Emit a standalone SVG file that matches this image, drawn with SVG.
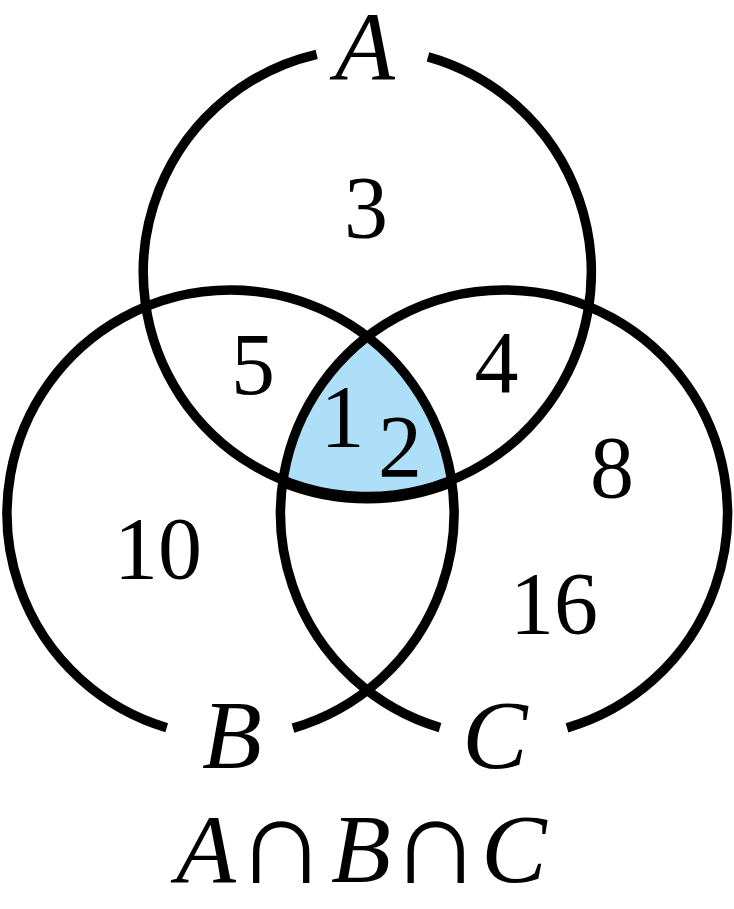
<svg xmlns="http://www.w3.org/2000/svg" width="734" height="909" viewBox="0 0 734 909">
  <style>
    .ring { fill: none; stroke: #000; stroke-width: 9.5; stroke-linecap: butt; }
    .num { font-family: "Liberation Serif", "Times New Roman", serif; font-size: 88px; fill: #000; text-anchor: middle; }
    .set { font-family: "Liberation Serif", "Times New Roman", serif; font-style: italic; font-size: 98px; fill: #000; text-anchor: middle; }
    .op { font-family: "Liberation Serif", "Times New Roman", serif; font-size: 98px; fill: #000; text-anchor: middle; }
  </style>
  <rect width="734" height="909" fill="#fff"/>
  <g id="region-ABC">
    <path d="M 367.25 336.7 A 223.5 223.5 0 0 0 283.1 479.3 A 224 224 0 0 0 451.4 479.3 A 223.5 223.5 0 0 0 367.25 336.7 Z" fill="#ADDFF8"/>
    <path class="ring" d="M 283.1 482.5 A 226 226 0 0 0 451.4 482.5"/>
  </g>
  <g id="circle-A">
    <path class="ring" d="M 428 56.9 A 224 224 0 1 1 316.7 54.3"/>
    <text class="set" x="365" y="79">A</text>
  </g>
  <g id="circle-B">
    <path class="ring" d="M 166.7 727.7 A 223.5 223.5 0 1 1 293 728.1"/>
    <text class="set" x="232" y="768">B</text>
  </g>
  <g id="circle-C">
    <path class="ring" d="M 440 727.6 A 223.5 223.5 0 1 1 567 727.9"/>
    <text class="set" x="495" y="768">C</text>
  </g>
  <g id="counts">
    <text class="num" x="366" y="237">3</text>
    <text class="num" x="253" y="394">5</text>
    <text class="num" x="496.5" y="392">4</text>
    <text class="num" x="342.5" y="446">1</text>
    <text class="num" x="400" y="476">2</text>
    <text class="num" x="612" y="497">8</text>
    <text class="num" x="158" y="578">10</text>
    <text class="num" x="554" y="633">16</text>
  </g>
  <g id="caption">
    <text class="set" x="206" y="882">A</text>
    <text class="op" transform="translate(281 883) scale(1.28 1.25)">∩</text>
    <text class="set" x="361" y="882">B</text>
    <text class="op" transform="translate(435.5 883) scale(1.28 1.25)">∩</text>
    <text class="set" x="514" y="882">C</text>
  </g>
</svg>
